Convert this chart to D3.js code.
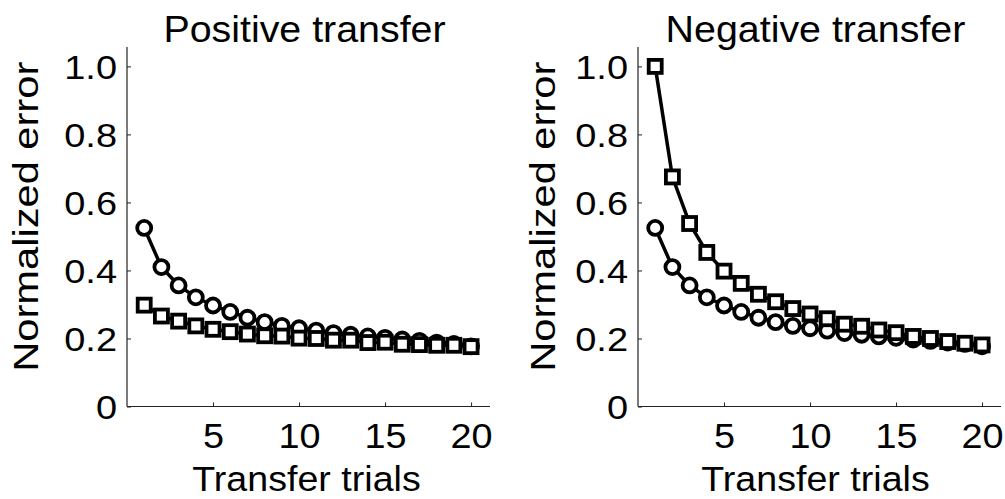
<!DOCTYPE html>
<html>
<head>
<meta charset="utf-8">
<script src="https://cdn.jsdelivr.net/npm/d3@7"></script>
<style>
  html, body { margin: 0; padding: 0; background: #fff; }
  svg { display: block; }
  text { font-family: "Liberation Sans", Arial, Helvetica, sans-serif; fill: #000; }
</style>
</head>
<body>
<svg id="chart" width="1005" height="499"></svg>
<script>
// Transfer trial numbers 1..20
const trials = [1,2,3,4,5,6,7,8,9,10,11,12,13,14,15,16,17,18,19,20];

// Baseline learning curve (circles), shared by both panels
const baselineError = [0.525,0.41,0.356,0.321,0.297,0.278,0.261,0.248,0.237,0.230,
                       0.223,0.216,0.211,0.206,0.202,0.197,0.193,0.188,0.184,0.177];

// Positive transfer condition (squares)
const positiveError = [0.298,0.266,0.251,0.237,0.227,0.220,0.213,0.208,0.207,0.201,
                       0.200,0.195,0.195,0.188,0.189,0.183,0.182,0.180,0.180,0.176];

// Negative transfer condition (squares)
const negativeError = [1.000,0.675,0.538,0.453,0.398,0.362,0.330,0.308,0.288,0.272,
                       0.258,0.242,0.236,0.225,0.217,0.206,0.200,0.191,0.186,0.181];

const yTicks = [0, 0.2, 0.4, 0.6, 0.8, 1.0];
const xTicks = [5, 10, 15, 20];

const panels = [
  { title: "Positive transfer", left: 127, labelOffset: 89, xLabelShift: -2, squares: positiveError },
  { title: "Negative transfer", left: 638, labelOffset: 83, xLabelShift: -4, squares: negativeError }
];

const svg = d3.select("#chart");
const plotW = 363, plotTop = 47, plotBottom = 406.5;

const y = d3.scaleLinear().domain([0, 1.057]).range([plotBottom, plotTop]);

// Widen glyphs horizontally while keeping the anchor point in place
function widen(sel, k) {
  sel.each(function () {
    const t = d3.select(this);
    const x0 = +t.attr("x") || 0;
    t.attr("x", x0 / k).attr("transform", `scale(${k},1)`);
  });
}

panels.forEach(p => {
  const x = d3.scaleLinear().domain([0, 21.1]).range([p.left, p.left + plotW]);
  const g = svg.append("g");

  // axes
  const yAxis = d3.axisLeft(y).tickValues(yTicks).tickSize(-4).tickPadding(10)
    .tickFormat(d => d === 0 ? "0" : d3.format(".1f")(d));
  const xAxis = d3.axisBottom(x).tickValues(xTicks).tickSize(-4).tickPadding(16)
    .tickFormat(d3.format("d"));

  const ya = g.append("g").attr("transform", `translate(${p.left},0)`).call(yAxis);
  const xa = g.append("g").attr("transform", `translate(0,${plotBottom})`).call(xAxis);
  [ya, xa].forEach(a => {
    a.select(".domain").attr("stroke", "#222").attr("stroke-width", 1.2);
    a.selectAll(".tick line").attr("stroke", "#222").attr("stroke-width", 1);
    a.selectAll(".tick text").attr("fill", "#000");
  });
  ya.select(".domain").attr("d", `M0,${plotBottom}V${plotTop}`);
  xa.select(".domain").attr("d", `M${p.left},0H${p.left + plotW}`);
  ya.selectAll(".tick text").style("font-size", "33px").attr("dy", "0.36em");
  xa.selectAll(".tick text").style("font-size", "35px").attr("dy", "0.72em");
  widen(ya.selectAll(".tick text"), 1.15);
  widen(xa.selectAll(".tick text"), 1.08);

  // titles and axis labels
  const title = g.append("text").attr("x", p.left + plotW / 2 - 4).attr("y", 42)
    .attr("text-anchor", "middle").style("font-size", "37.5px").text(p.title);
  widen(title, 1.05);

  const xLabel = g.append("text").attr("x", p.left + plotW / 2 + p.xLabelShift).attr("y", 491)
    .attr("text-anchor", "middle").style("font-size", "34.5px").text("Transfer trials");
  widen(xLabel, 1.09);

  g.append("text")
    .attr("transform", `translate(${p.left - p.labelOffset},${(plotTop + plotBottom) / 2 - 10}) rotate(-90) scale(1.19,1)`)
    .attr("text-anchor", "middle").style("font-size", "35px").text("Normalized error");

  const line = d3.line().x((d, i) => x(trials[i])).y(d => y(d));

  // baseline curve with circle markers
  g.append("path").datum(baselineError).attr("d", line)
    .attr("fill", "none").attr("stroke", "#000").attr("stroke-width", 3.5);
  g.selectAll(".circ").data(baselineError).enter().append("circle")
    .attr("cx", (d, i) => x(trials[i])).attr("cy", d => y(d)).attr("r", 7)
    .attr("fill", "#fff").attr("stroke", "#000").attr("stroke-width", 3.8);

  // transfer curve with square markers
  g.append("path").datum(p.squares).attr("d", line)
    .attr("fill", "none").attr("stroke", "#000").attr("stroke-width", 3.5);
  const s = 13;
  g.selectAll(".sq").data(p.squares).enter().append("rect")
    .attr("x", (d, i) => x(trials[i]) - s / 2).attr("y", d => y(d) - s / 2)
    .attr("width", s).attr("height", s)
    .attr("fill", "#fff").attr("stroke", "#000").attr("stroke-width", 3.8);
});
</script>
</body>
</html>
